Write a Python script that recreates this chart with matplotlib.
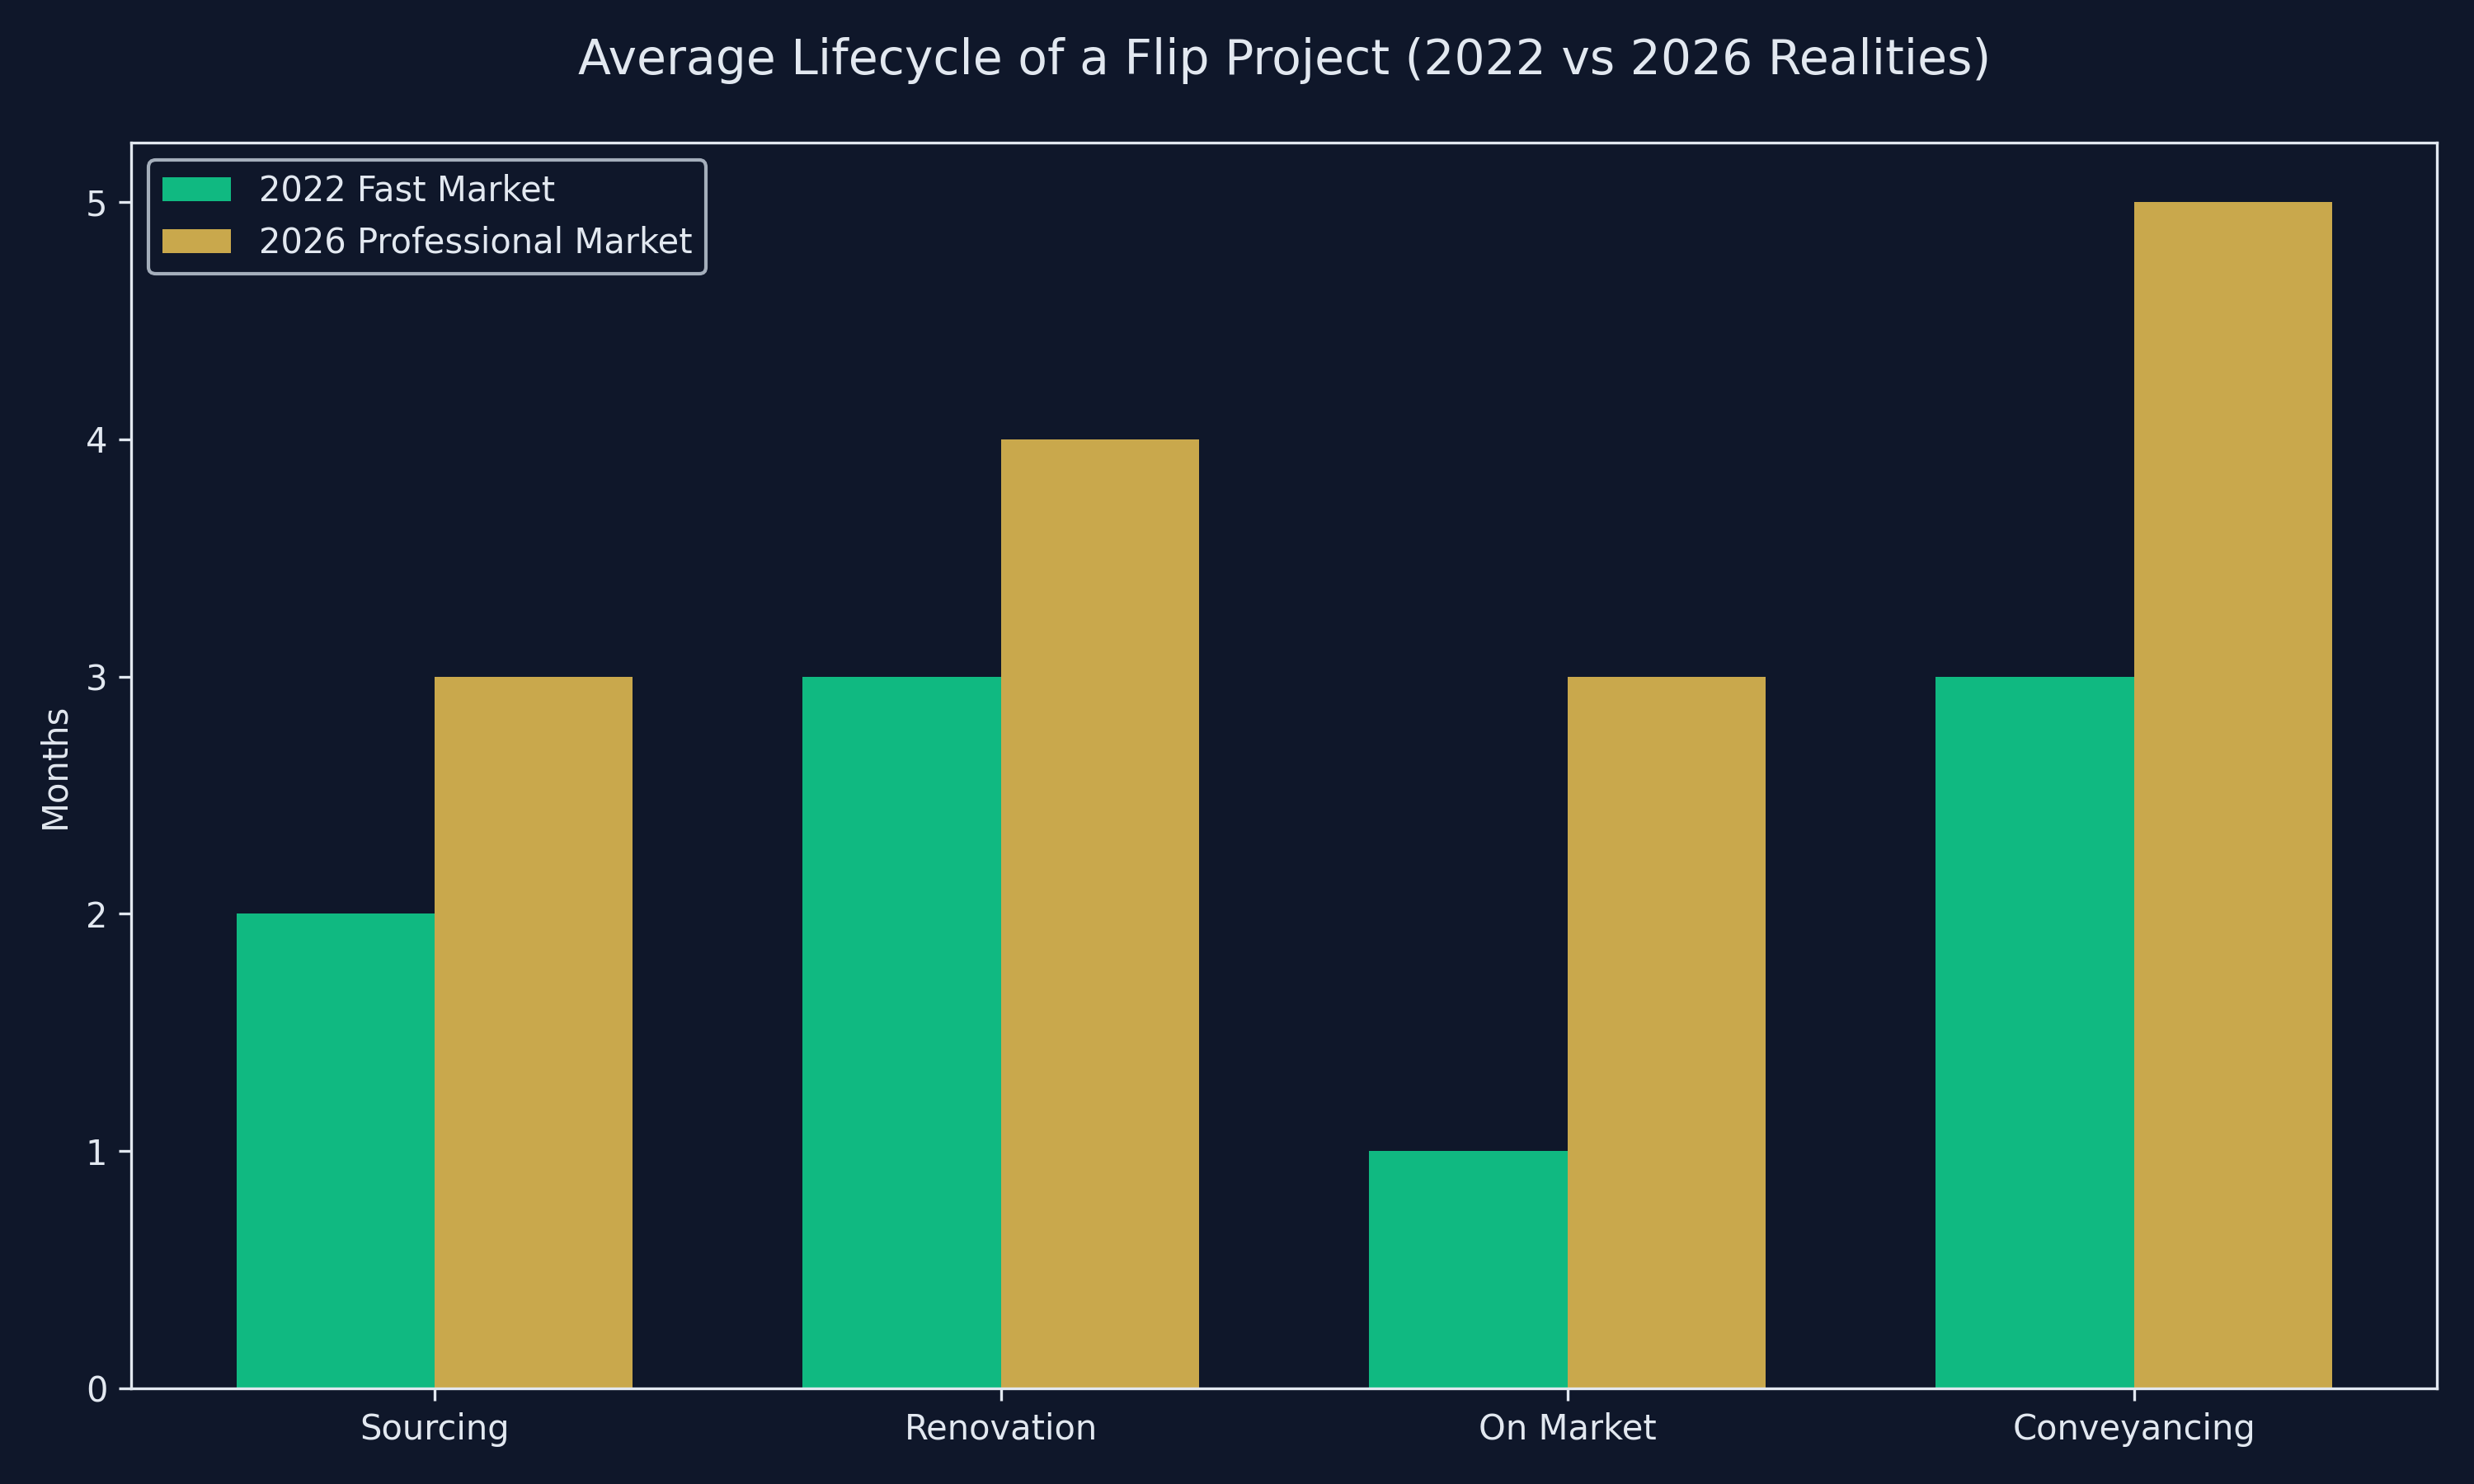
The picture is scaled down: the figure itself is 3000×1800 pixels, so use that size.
import numpy as np
import matplotlib
matplotlib.use("Agg")
import matplotlib.pyplot as plt

# Phases and months per phase
phases = ['Sourcing', 'Renovation', 'On Market', 'Conveyancing']
months_2022 = [2, 3, 1, 3]
months_2026 = [3, 4, 3, 5]

bg = '#0f172a'
text_col = '#e2e8f0'

fig, ax = plt.subplots(figsize=(10, 6), dpi=300)
fig.patch.set_facecolor(bg)
ax.set_facecolor(bg)

x = np.arange(len(phases))
width = 0.35
ax.bar(x - width / 2, months_2022, width, label='2022 Fast Market', color='#10b981')
ax.bar(x + width / 2, months_2026, width, label='2026 Professional Market', color='#c9a84c')

ax.set_xticks(x)
ax.set_xticklabels(phases)
ax.set_ylabel('Months', color=text_col)
ax.set_title('Average Lifecycle of a Flip Project (2022 vs 2026 Realities)',
             color=text_col, fontsize=14, pad=20)

ax.tick_params(colors=text_col)
for spine in ax.spines.values():
    spine.set_color(text_col)

leg = ax.legend(facecolor=bg, edgecolor='#cbd5e1', labelcolor=text_col)

plt.tight_layout()
plt.savefig('out.png', dpi=300, facecolor=bg)
